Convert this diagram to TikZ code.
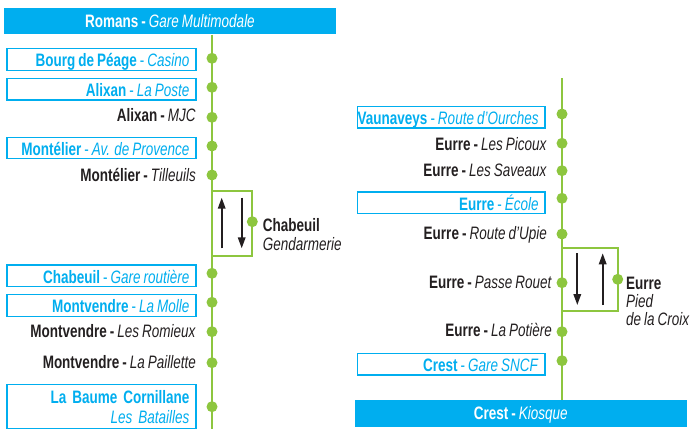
\documentclass[tikz,border=0pt]{standalone}
\usepackage{fontspec}
\setmainfont{Liberation Sans}[FakeStretch=0.75,WordSpace=0.8]
\usetikzlibrary{arrows.meta}

\definecolor{lineblue}{HTML}{00AEEF}
\definecolor{linegreen}{HTML}{8DC63F}
\definecolor{lineblack}{HTML}{231F20}

% right-aligned stop name inside a box of fixed width
\newcommand{\rtext}[2][176pt]{\makebox[#1][r]{#2}}

\begin{document}
\begin{tikzpicture}[x=1pt,y=-1pt,
    every node/.style={font=\fontsize{18}{19}\selectfont},
    banner/.style={fill=lineblue,text=white,minimum width=332pt,minimum height=26.5pt,
                   inner sep=0pt,text height=13pt,text depth=0pt},
    stopbox/.style={draw=lineblue,line width=1.2pt,fill=white,text=lineblue,
                    inner xsep=6.5pt,inner ysep=3.5pt,
                    minimum height=21.5pt,text height=14.5pt,text depth=0pt},
    stoplabel/.style={text=lineblack,inner sep=0pt},
    stopdot/.style={circle,fill=linegreen,minimum size=11pt,inner sep=0pt},
    track/.style={draw=linegreen,line width=2pt},
    dirarrow/.style={draw=lineblack,line width=1.8pt,-{Triangle[length=11pt,width=7.5pt]}}]

  \useasboundingbox (0,0) rectangle (694,429);

  % left line: Romans -> Chabeuil
  \node[banner] (romans) at (170,21.2) {\textbf{Romans -} \textit{Gare Multimodale}};
  \coordinate (lbot) at (212,429);
  \draw[track] (romans.south -| lbot) -- (lbot);

  % loop Chabeuil Gendarmerie
  \coordinate (lpa) at (212,191);
  \coordinate (lpb) at (212,255.5);
  \coordinate (chabpt) at (252.3,221.7);
  \draw[track] (lpa) -| (chabpt) |- (lpb);
  \coordinate (cup1) at (221.7,248.3);
  \coordinate (cup2) at (221.7,197.7);
  \coordinate (cdn1) at (241.7,197.7);
  \coordinate (cdn2) at (241.7,248.3);
  \draw[dirarrow] (cup1) -- (cup2);
  \draw[dirarrow] (cdn1) -- (cdn2);

  \node[stopbox] (bourg) at (101.5,59.5) {\rtext{\textbf{Bourg de Péage} - \textit{Casino}}};
  \node[stopbox] (poste) at (101.5,89.2) {\rtext{\textbf{Alixan} - \textit{La Poste}}};
  \node[stoplabel,anchor=base east] (mjc) at (196,121) {\textbf{Alixan -} \textit{MJC}};
  \node[stopbox] (provence) at (101.5,148) {\rtext{\textbf{Montélier} - \textit{Av. de Provence}}};
  \node[stoplabel,anchor=base east] (tilleuils) at (196,181.5) {\textbf{Montélier -} \textit{Tilleuils}};
  \node[stoplabel,anchor=base west] (chabeuil) at (262.7,231) {\textbf{Chabeuil}};
  \node[stoplabel,anchor=base west] (gendarmerie) at (262.7,250) {\textit{Gendarmerie}};
  \node[stopbox] (routiere) at (101.5,275.8) {\rtext{\textbf{Chabeuil} - \textit{Gare routière}}};
  \node[stopbox] (molle) at (101.5,305.5) {\rtext{\textbf{Montvendre} - \textit{La Molle}}};
  \node[stoplabel,anchor=base east] (romieux) at (196,337.3) {\textbf{Montvendre -} \textit{Les Romieux}};
  \node[stoplabel,anchor=base east] (paillette) at (196,368.3) {\textbf{Montvendre -} \textit{La Paillette}};
  \node[stopbox,text width=176pt,align=right,minimum height=44pt,text depth=20.7pt,
        inner ysep=4.4pt,font=\fontsize{18}{20.7}\selectfont] (baume) at (101.5,406.2)
        {\textbf{La Baume Cornillane}\\\textit{Les Batailles}};

  \node[stopdot] (bourgdot) at (212,58.3) {};
  \node[stopdot] (postedot) at (212,87.3) {};
  \node[stopdot] (mjcdot) at (212,117.3) {};
  \node[stopdot] (provencedot) at (212,146) {};
  \node[stopdot] (tilleuilsdot) at (212,175) {};
  \node[stopdot] (chabdot) at (chabpt) {};
  \node[stopdot] (routieredot) at (212,273.3) {};
  \node[stopdot] (molledot) at (212,302.3) {};
  \node[stopdot] (romieuxdot) at (212,331.7) {};
  \node[stopdot] (pailletedot) at (212,362.7) {};
  \node[stopdot] (baumedot) at (212,406.7) {};

  % right line: Vaunaveys -> Crest
  \node[banner] (kiosque) at (520.8,413.3) {\textbf{Crest -} \textit{Kiosque}};
  \coordinate (rtop) at (562,78.3);
  \draw[track] (rtop) -- (kiosque.north -| rtop);

  % loop Eurre Pied de la Croix
  \coordinate (rpa) at (562,248.3);
  \coordinate (rpb) at (562,310.7);
  \coordinate (croixpt) at (617.7,279.3);
  \draw[track] (rpa) -| (croixpt) |- (rpb);
  \coordinate (edn1) at (577.3,253.3);
  \coordinate (edn2) at (577.3,305);
  \coordinate (eup1) at (602.7,305);
  \coordinate (eup2) at (602.7,253.3);
  \draw[dirarrow] (edn1) -- (edn2);
  \draw[dirarrow] (eup1) -- (eup2);

  \node[stopbox] (ourches) at (451.2,117.2) {\rtext[174.7pt]{\textbf{Vaunaveys} - \textit{Route d’Ourches}}};
  \node[stoplabel,anchor=base east] (picoux) at (547,150) {\textbf{Eurre -} \textit{Les Picoux}};
  \node[stoplabel,anchor=base east] (saveaux) at (547,176.7) {\textbf{Eurre -} \textit{Les Saveaux}};
  \node[stopbox] (ecole) at (451.2,202.8) {\rtext[174.7pt]{\textbf{Eurre} - \textit{École}}};
  \node[stoplabel,anchor=base east] (upie) at (547,239.3) {\textbf{Eurre -} \textit{Route d’Upie}};
  \node[stoplabel,anchor=base east] (rouet) at (552,288.3) {\textbf{Eurre -} \textit{Passe Rouet}};
  \node[stoplabel,anchor=base west] (eurre) at (626,289.3) {\textbf{Eurre}};
  \node[stoplabel,anchor=base west] (pied) at (626,307) {\textit{Pied}};
  \node[stoplabel,anchor=base west] (croix) at (626,325.3) {\textit{de la Croix}};
  \node[stoplabel,anchor=base east] (potiere) at (552,336.7) {\textbf{Eurre -} \textit{La Potière}};
  \node[stopbox] (sncf) at (451.2,364.2) {\rtext[174.7pt]{\textbf{Crest} - \textit{Gare SNCF}}};

  \node[stopdot] (ourchesdot) at (562,114) {};
  \node[stopdot] (picouxdot) at (562,143.3) {};
  \node[stopdot] (saveauxdot) at (562,170.7) {};
  \node[stopdot] (ecoledot) at (562,198.3) {};
  \node[stopdot] (upiedot) at (562,234) {};
  \node[stopdot] (rouetdot) at (562,282.7) {};
  \node[stopdot] (croixdot) at (croixpt) {};
  \node[stopdot] (potieredot) at (562,331.7) {};
  \node[stopdot] (sncfdot) at (562,360.7) {};
\end{tikzpicture}
\end{document}
